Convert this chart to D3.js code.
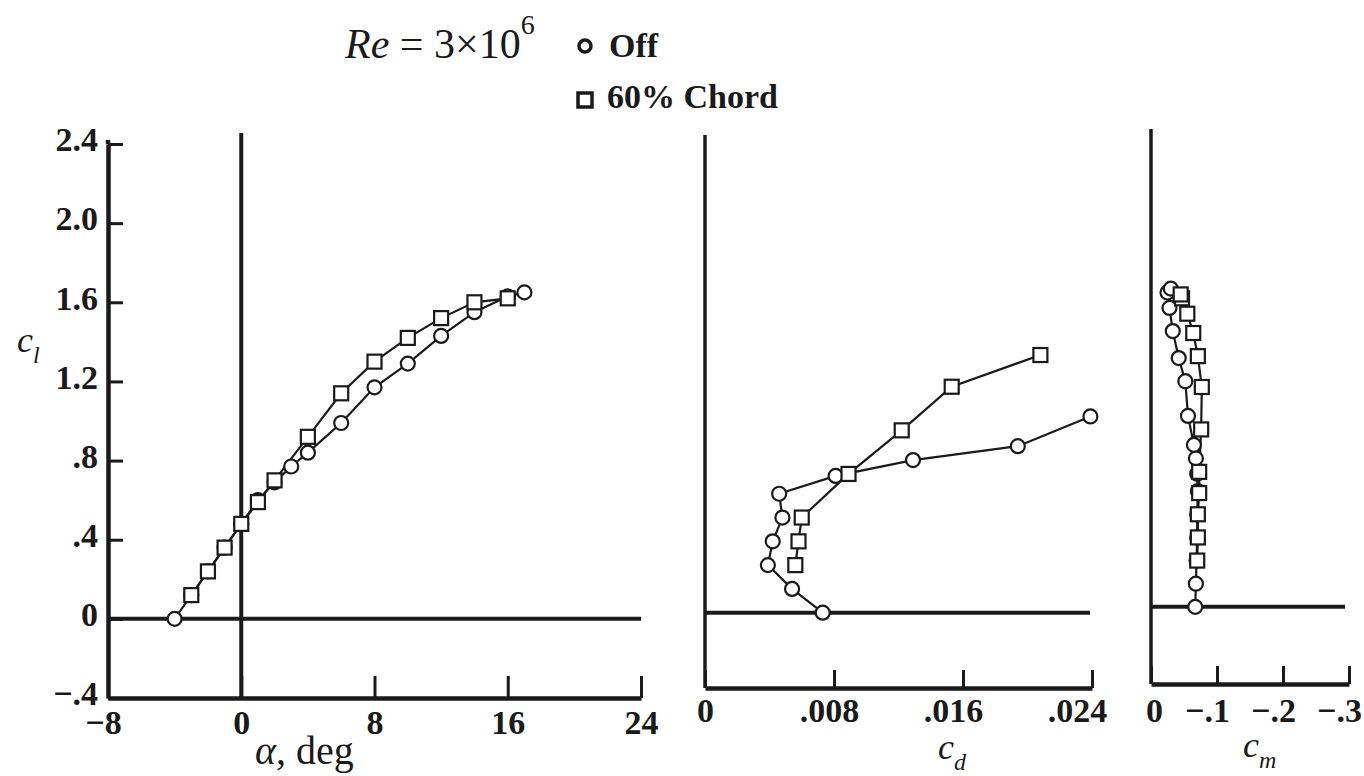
<!DOCTYPE html>
<html>
<head>
<meta charset="utf-8">
<script src="https://cdn.jsdelivr.net/npm/d3@7"></script>
<style>
  body { margin: 0; background: #fff; }
  text { font-family: "Liberation Serif", "Times New Roman", serif; fill: #1a1a1a; }
</style>
</head>
<body>
<svg id="chart" width="1364" height="776"></svg>
<script>
// Off (circles)
var offAlpha = [-4, -3, -2, -1, 0, 1, 2, 3, 4, 6, 8, 10, 12, 14, 16, 17];
var offCl = [0, 0.12, 0.24, 0.36, 0.48, 0.60, 0.69, 0.77, 0.84, 0.99, 1.17, 1.29, 1.43, 1.55, 1.63, 1.65];
var offCd = [0.0073, 0.0054, 0.0039, 0.0042, 0.0048, 0.0046, 0.0081, 0.0129, 0.0194, 0.0239, null, null, null, null, null, null];
var offCm = [-0.067, -0.068, -0.069, -0.070, -0.070, -0.071, -0.070, -0.068, -0.065, -0.056, -0.052, -0.042, -0.033, -0.028, -0.025, -0.030];

// 60% chord (squares)
var chordAlpha = [-3, -2, -1, 0, 1, 2, 4, 6, 8, 10, 12, 14, 16];
var chordCl = [0.12, 0.24, 0.36, 0.48, 0.59, 0.70, 0.92, 1.14, 1.30, 1.42, 1.52, 1.60, 1.62];
var chordCd = [null, 0.0056, 0.0058, 0.0060, null, 0.0089, 0.0122, 0.0153, 0.0208, null, null, null, null];
var chordCm = [null, -0.070, -0.071, -0.071, -0.073, -0.073, -0.076, -0.077, -0.071, -0.064, -0.055, -0.047, -0.045];

var alphaTicks = [-8, 0, 8, 16, 24];
var clTicks = [-0.4, 0, 0.4, 0.8, 1.2, 1.6, 2.0, 2.4];
var cdTicks = [0, 0.008, 0.016, 0.024];
var cmTicks = [0, -0.1, -0.2, -0.3];

var svg = d3.select("#chart");
var ink = "#1a1a1a";

function dropZero(s) {
  return s.replace("0.", ".");
}

function styleAxis(g, width) {
  g.select(".domain").attr("stroke", ink).attr("stroke-width", width);
  g.selectAll(".tick line").attr("stroke", ink).attr("stroke-width", 3);
  g.selectAll(".tick text")
    .attr("fill", ink)
    .style("font-family", '"Liberation Serif", serif')
    .style("font-weight", "bold")
    .style("font-size", "34px");
}

function pts(xs, ys) {
  var out = [];
  for (var i = 0; i < xs.length; i++) {
    if (xs[i] != null && ys[i] != null) out.push([xs[i], ys[i]]);
  }
  return out;
}

function drawSeries(g, x, y, offPts, chordPts) {
  var line = d3.line().x(function (d) { return x(d[0]); }).y(function (d) { return y(d[1]); });
  [offPts, chordPts].forEach(function (p) {
    g.append("path")
      .attr("d", line(p))
      .attr("fill", "none")
      .attr("stroke", ink)
      .attr("stroke-width", 2.2);
  });
  g.selectAll(null).data(offPts).enter().append("circle")
    .attr("cx", function (d) { return x(d[0]); })
    .attr("cy", function (d) { return y(d[1]); })
    .attr("r", 7)
    .attr("fill", "#fff")
    .attr("stroke", ink)
    .attr("stroke-width", 2.2);
  g.selectAll(null).data(chordPts).enter().append("rect")
    .attr("x", function (d) { return x(d[0]) - 7; })
    .attr("y", function (d) { return y(d[1]) - 7; })
    .attr("width", 14)
    .attr("height", 14)
    .attr("fill", "#fff")
    .attr("stroke", ink)
    .attr("stroke-width", 2.2);
}

function hline(x1, x2, y, w) {
  svg.append("line").attr("x1", x1).attr("x2", x2).attr("y1", y).attr("y2", y)
    .attr("stroke", ink).attr("stroke-width", w);
}
function vline(x, y1, y2, w) {
  svg.append("line").attr("x1", x).attr("x2", x).attr("y1", y1).attr("y2", y2)
    .attr("stroke", ink).attr("stroke-width", w);
}

// ---- lift curve
var xA = d3.scaleLinear().domain([-8, 24]).range([108, 641]);
var yA = d3.scaleLinear().domain([-0.4, 2.4]).range([698, 144]);

hline(xA(-8), xA(24), yA(0), 4);
vline(xA(0), 133, yA(-0.4), 4);
vline(xA(-8), 140, yA(2.4), 4.5);

svg.append("g")
  .attr("transform", "translate(0," + yA(-0.4) + ")")
  .call(d3.axisBottom(xA).tickValues(alphaTicks).tickSizeInner(-22).tickSizeOuter(0).tickPadding(12))
  .call(styleAxis, 4.5)
  .selectAll(".tick text").attr("dx", function (v) { return v < 0 ? -5 : 0; });

svg.append("g")
  .attr("transform", "translate(" + xA(-8) + ",0)")
  .call(d3.axisLeft(yA).tickValues(clTicks).tickSizeInner(-15).tickSizeOuter(0).tickPadding(10)
    .tickFormat(function (v) { return v === 0 ? "0" : dropZero(d3.format(".1f")(v)); }))
  .call(styleAxis, 4.5)
  .selectAll(".tick text").attr("dy", "0.2em");

drawSeries(svg.append("g"), xA, yA, pts(offAlpha, offCl), pts(chordAlpha, chordCl));

// ---- drag polar
var xD = d3.scaleLinear().domain([0, 0.024]).range([705, 1092]);
var yD = d3.scaleLinear().domain([-0.38, 2.4]).range([688, 137]);

hline(xD(0), xD(0.024) - 2, yD(0), 4);
vline(xD(0), 135, yD(-0.38), 3.5);

svg.append("g")
  .attr("transform", "translate(0," + yD(-0.38) + ")")
  .call(d3.axisBottom(xD).tickValues(cdTicks).tickSizeInner(-18).tickSizeOuter(0).tickPadding(10)
    .tickFormat(function (v) { return v === 0 ? "0" : dropZero(d3.format(".3f")(v)); }))
  .call(styleAxis, 4.5)
  .selectAll(".tick text").attr("dx", function (v, i) { return -5 * i; });

drawSeries(svg.append("g"), xD, yD, pts(offCd, offCl), pts(chordCd, chordCl));

// ---- moment
var xM = d3.scaleLinear().domain([0, -0.3]).range([1151, 1349]);
var yM = d3.scaleLinear().domain([-0.4, 2.4]).range([684, 144]);

hline(xM(0), xM(-0.3) - 4, yM(0), 4);
vline(xM(0), 129, yM(-0.4), 3.5);

svg.append("g")
  .attr("transform", "translate(0," + yM(-0.4) + ")")
  .call(d3.axisBottom(xM).tickValues(cmTicks).tickSizeInner(-18).tickSizeOuter(0).tickPadding(14)
    .tickFormat(function (v) { return v === 0 ? "0" : dropZero(d3.format(".1f")(v)); }))
  .call(styleAxis, 4.5)
  .selectAll(".tick text").attr("dx", function (v) { return v < 0 ? -10 : 3; });

drawSeries(svg.append("g"), xM, yM, pts(offCm, offCl), pts(chordCm, chordCl));

// ---- axis titles
function subLabel(x, y, main, sub) {
  var t = svg.append("text").attr("x", x).attr("y", y)
    .style("font-size", "36px").style("font-style", "italic").attr("fill", "#333");
  t.append("tspan").text(main);
  t.append("tspan").attr("dy", 11).style("font-size", "24px").text(sub);
}
subLabel(17, 352, "c", "l");
subLabel(938, 759, "c", "d");
subLabel(1243, 757, "c", "m");

var at = svg.append("text").attr("x", 255).attr("y", 764).style("font-size", "40px").attr("fill", "#333");
at.append("tspan").style("font-style", "italic").text("\u03b1");
at.append("tspan").text(", deg");

// ---- legend
var re = svg.append("text").attr("x", 345).attr("y", 58).style("font-size", "42px").attr("fill", "#222");
re.append("tspan").style("font-style", "italic").text("Re");
re.append("tspan").text(" = 3\u00d710");
re.append("tspan").attr("dy", -24).style("font-size", "28px").text("6");

svg.append("circle").attr("cx", 585).attr("cy", 46).attr("r", 6)
  .attr("fill", "#fff").attr("stroke", ink).attr("stroke-width", 3.5);
svg.append("text").attr("x", 609).attr("y", 57)
  .style("font-size", "34px").style("font-weight", "bold").text("Off");

svg.append("rect").attr("x", 578).attr("y", 93).attr("width", 14).attr("height", 14)
  .attr("fill", "#fff").attr("stroke", ink).attr("stroke-width", 3.5);
svg.append("text").attr("x", 607).attr("y", 108)
  .style("font-size", "34px").style("font-weight", "bold").text("60% Chord");
</script>
</body>
</html>
